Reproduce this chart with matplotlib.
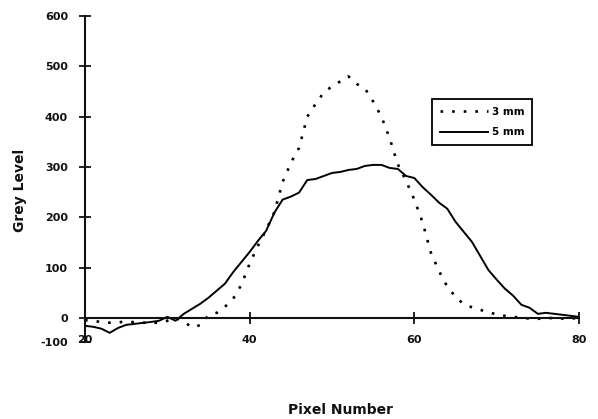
import numpy as np
import matplotlib
matplotlib.use("Agg")
import matplotlib.pyplot as plt

# Pixel positions along the profile
pixel = list(range(20, 81))

# Grey level profile, 3 mm
grey_3mm = [-10, -12, -18, -20, -18, -16, -18, -20, -21, -20,
            -12, 0, -15, -40, -30, 5, 10, 22, 38, 66,
            108, 143, 175, 210, 270, 308, 338, 400, 425, 448,
            460, 470, 480, 465, 456, 430, 400, 357, 305, 272,
            235, 190, 130, 93, 62, 42, 27, 21, 16, 11,
            7, 4, 2, 0, -3, -4, -2, 0, -3, -2, -2]

# Grey level profile, 5 mm
grey_5mm = [-33, -37, -45, -62, -42, -29, -25, -21, -17, -12,
            2, -12, 8, 18, 28, 40, 54, 68, 91, 111,
            131, 153, 173, 209, 235, 241, 249, 274, 276, 282,
            288, 290, 294, 296, 302, 304, 304, 298, 296, 282,
            278, 260, 245, 229, 217, 191, 171, 151, 123, 95,
            76, 58, 44, 26, 20, 8, 10, 8, 6, 4, 2]

x_ticks = [20, 40, 60, 80]
y_ticks = [-100, 0, 100, 200, 300, 400, 500, 600]
labels = ["3 mm", "5 mm"]

NEG = 0.48  # the part of the axis below zero is drawn compressed


def fwd(v):
    v = np.asarray(v, dtype=float)
    return np.where(v < 0, v * NEG, v)


def inv(v):
    v = np.asarray(v, dtype=float)
    return np.where(v < 0, v / NEG, v)


plt.rcParams["font.family"] = ["DejaVu Sans"]
plt.rcParams["font.weight"] = "bold"

W, H = 598, 419
fig = plt.figure(figsize=(W / 100, H / 100), dpi=100)
ax = fig.add_axes([85 / W, 1 - 342 / H, (579 - 85) / W, (342 - 16) / H])
ax.set_yscale("function", functions=(fwd, inv))

ax.plot(pixel, grey_3mm, color="black", lw=1.9, linestyle=(0, (1.0, 3.4)),
        label=labels[0])
ax.plot(pixel, grey_5mm, color="black", lw=1.4, label=labels[1])

ax.set_xlim(20, 80)
ax.set_ylim(-100, 600)
ax.set_xticks(x_ticks)
ax.set_yticks(y_ticks)
ax.set_xticklabels([str(t) for t in x_ticks])
ax.set_yticklabels([str(t) for t in y_ticks])

for s in ("top", "right"):
    ax.spines[s].set_visible(False)
ax.spines["bottom"].set_position(("data", 0))
for s in ("left", "bottom"):
    ax.spines[s].set_linewidth(1.5)
    ax.spines[s].set_color("#111111")

ax.tick_params(direction="inout", length=8.6, width=1.3, pad=8,
               labelsize=8, colors="#111111")
for lab in ax.get_xticklabels() + ax.get_yticklabels():
    lab.set_fontweight("bold")

fig.text(20 / W, 1 - 190 / H, "Grey Level", rotation=90, ha="center",
         va="center", fontsize=10, fontweight="bold", color="#111111")
fig.text(340 / W, 1 - 410 / H, "Pixel Number", ha="center", va="center",
         fontsize=10, fontweight="bold", color="#111111")

leg = ax.legend(loc="upper left", bbox_to_anchor=(432 / W, 1 - 99 / H),
                bbox_transform=fig.transFigure, borderaxespad=0,
                frameon=True, fancybox=False, framealpha=1,
                edgecolor="black", prop={"weight": "bold", "size": 7.5},
                handlelength=4.6, handletextpad=0.4, labelspacing=1.0,
                borderpad=0.75)
leg.get_frame().set_linewidth(1.3)

fig.savefig("out.png", dpi=100)
